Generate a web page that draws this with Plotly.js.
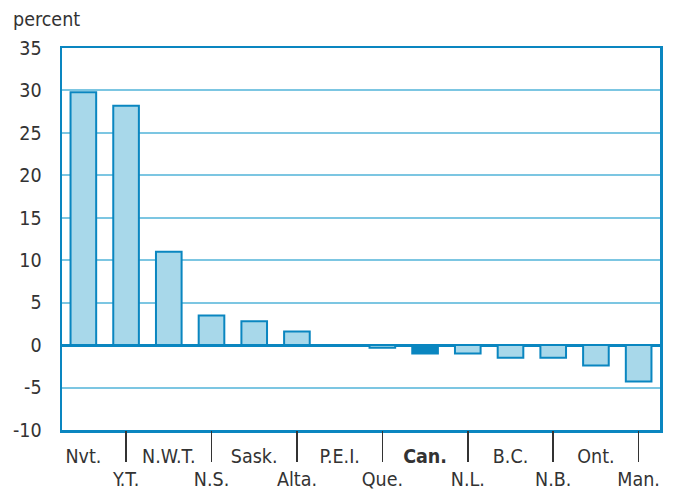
<!DOCTYPE html>
<html>
<head>
<meta charset="utf-8">
<script src="https://cdn.plot.ly/plotly-3.0.1.min.js"></script>
<style>html,body{margin:0;padding:0;background:#fff;}#chart{width:675px;height:490px;}</style>
</head>
<body>
<div id="chart"></div>
<script>
const categories = ["Nvt.","Y.T.","N.W.T.","N.S.","Sask.","Alta.","P.E.I.","Que.","Can.","N.L.","B.C.","N.B.","Ont.","Man."];
const values = [29.8, 28.2, 11.0, 3.5, 2.8, 1.6, 0.0, -0.3, -1.0, -1.0, -1.5, -1.5, -2.4, -4.3];
const upperCats = ["Nvt.","N.W.T.","Sask.","P.E.I.","Can.","B.C.","Ont."];
const upperText = ["Nvt.","N.W.T.","Sask.","P.E.I.","<b>Can.</b>","B.C.","Ont."];
const lowerCats = ["Y.T.","N.S.","Alta.","Que.","N.L.","N.B.","Man."];
const yTicks = [-10,-5,0,5,10,15,20,25,30,35];
const yTickText = ["-10","-5","0","5","10","15","20","25","30","35"];

const DARK = "#0a86c0";
const LIGHT = "#a8d8ea";
const GRID = "#7cc6e2";
const FONT = "'DejaVu Sans Condensed', 'Liberation Sans Narrow', 'Liberation Sans', sans-serif";
const FS = 19.5;

const fills = categories.map(c => c === "Can." ? DARK : LIGHT);

const traces = [
  {type:"bar", x:categories, y:values, width:0.6,
   marker:{color:fills, line:{color:DARK, width:2}}, hoverinfo:"x+y"},
  {type:"scatter", x:categories, y:values, mode:"none", xaxis:"x2", hoverinfo:"skip", showlegend:false}
];

const layout = {
  width:675, height:490,
  margin:{l:62, r:15, t:48, b:60},
  paper_bgcolor:"#fff", plot_bgcolor:"#fff",
  showlegend:false,
  font:{family:FONT, size:FS, color:"#333"},
  xaxis:{type:"category", categoryorder:"array", categoryarray:categories,
    range:[-0.5,13.5], tickmode:"array", tickvals:upperCats, ticktext:upperText,
    ticks:"", showgrid:false, showline:true, mirror:true, linecolor:DARK, linewidth:2.5,
    ticklabelstandoff:7, tickfont:{family:FONT, size:FS, color:"#333"}, fixedrange:true},
  xaxis2:{type:"category", categoryorder:"array", categoryarray:categories,
    range:[-0.5,13.5], overlaying:"x", anchor:"y", side:"bottom",
    tickmode:"array", tickvals:lowerCats, ticktext:lowerCats,
    ticks:"outside", ticklen:31, tickwidth:1.5, tickcolor:"#333",
    showgrid:false, showline:false, zeroline:false,
    ticklabelstandoff:1, tickfont:{family:FONT, size:FS, color:"#333"}},
  yaxis:{range:[-10,35], tickmode:"array", tickvals:yTicks, ticktext:yTickText,
    showgrid:true, gridcolor:GRID, gridwidth:2,
    zeroline:true, zerolinecolor:DARK, zerolinewidth:3,
    showline:true, mirror:true, linecolor:DARK, linewidth:2.5,
    ticks:"", ticklabelstandoff:14, tickfont:{family:FONT, size:FS, color:"#333"}},
  annotations:[{text:"percent", xref:"paper", yref:"paper", x:-0.086, y:1,
    xanchor:"left", yanchor:"bottom", yshift:15, showarrow:false,
    font:{family:FONT, size:FS, color:"#333"}}]
};

Plotly.newPlot("chart", traces, layout, {displayModeBar:false, staticPlot:true});
</script>
</body>
</html>
